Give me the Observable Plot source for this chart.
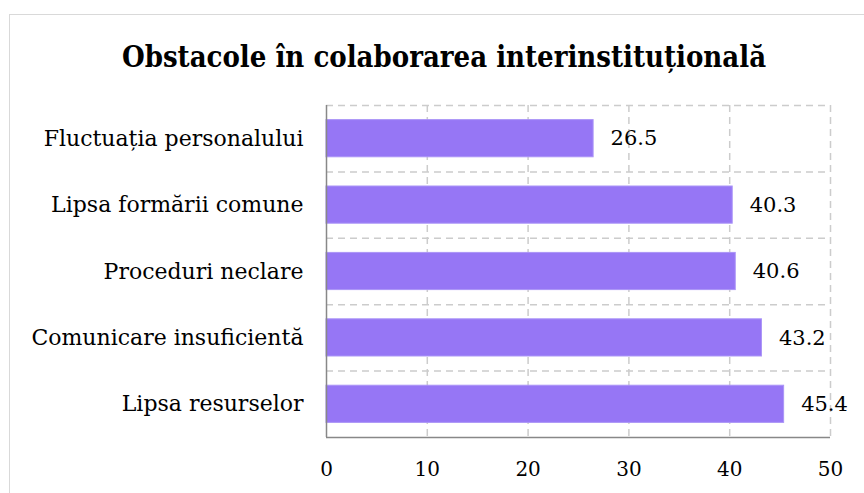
<!DOCTYPE html>
<html><head><meta charset="utf-8">
<script src="https://cdn.jsdelivr.net/npm/d3@7"></script>
<script src="https://cdn.jsdelivr.net/npm/@observablehq/plot@0.6"></script>
<style>
html,body{margin:0;padding:0;background:#fff;}
#wrap{position:relative;width:864px;height:493px;overflow:hidden;}
#frame{position:absolute;left:9px;top:14px;width:900px;height:600px;border:1.5px solid #d9d9d9;box-sizing:border-box;}
#title{position:absolute;left:0;top:40px;width:888px;text-align:center;font-family:"DejaVu Serif Condensed","DejaVu Serif",serif;font-weight:bold;font-size:29px;color:#000;letter-spacing:0;}
#chart{position:absolute;left:0;top:0;}
</style></head>
<body><div id="wrap"><div id="frame"></div><div id="title">Obstacole în colaborarea interinstituțională</div><div id="chart"></div></div>
<script>
const categories = ["Fluctuația personalului","Lipsa formării comune","Proceduri neclare","Comunicare insuficientă","Lipsa resurselor"];
const values = [26.5, 40.3, 40.6, 43.2, 45.4];
const xTicks = [0, 10, 20, 30, 40, 50];

const data = categories.map((c, i) => ({c, i, v: values[i]}));
const n = categories.length;
const pad = 0.22;
const font = "DejaVu Serif";

const plot = Plot.plot({
  width: 864, height: 493,
  marginLeft: 326, marginRight: 34, marginTop: 105, marginBottom: 56,
  style: {fontFamily: font, fontSize: "20px", color: "#000", background: "transparent"},
  x: {type: "linear", domain: [0, 50], ticks: xTicks},
  y: {type: "linear", domain: [0, n], reverse: true},
  marks: [
    Plot.ruleY(d3.range(0, n), {stroke: "#cccccc", strokeWidth: 1.5, strokeDasharray: "7,5"}),
    Plot.ruleX(xTicks.slice(1), {stroke: "#cccccc", strokeWidth: 1.5, strokeDasharray: "7,5", y1: 0, y2: n}),
    Plot.rect(data, {x1: 0, x2: "v", y1: d => d.i + pad, y2: d => d.i + 1 - pad, fill: "#9676f5", stroke: "#ab95f7", strokeWidth: 1}),
    Plot.text(data, {x: "v", y: d => d.i + 0.5, text: d => d.v.toFixed(1), textAnchor: "start", dx: 17, fontSize: 21, fill: "#000"}),
    Plot.ruleX([0], {stroke: "#888", strokeWidth: 1.5, y1: 0, y2: n}),
    Plot.ruleY([n], {stroke: "#888", strokeWidth: 1.5}),
    Plot.axisY(d3.range(0, n).map(i => i + 0.5), {tickFormat: t => categories[Math.floor(t)], tickSize: 0, tickPadding: 23, fontSize: 22, label: null}),
    Plot.axisX(xTicks, {tickSize: 0, tickPadding: 24, fontSize: 20, label: null})
  ]
});
document.getElementById("chart").appendChild(plot);
</script></body></html>
